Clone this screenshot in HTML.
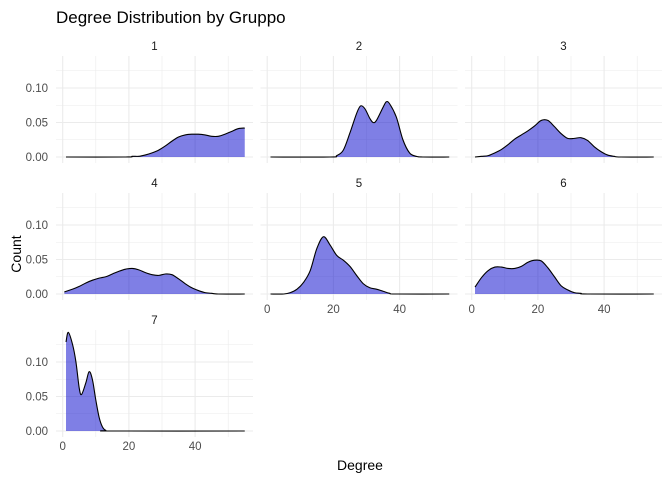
<!DOCTYPE html>
<html><head><meta charset="utf-8"><style>
body{margin:0;background:#fff}
svg{display:block;font-family:"Liberation Sans",sans-serif}
</style></head><body>
<svg id="c" width="672" height="480"></svg>
<script>
const groupNames=["1","2","3","4","5","6","7"];
const deg1=[1,19,21,23,25,27,29,31,33,35,37,39,41,43,45,47,49,51,53,55];
const den1=[0,0,0.001,0.001,0.003,0.006,0.010,0.016,0.023,0.029,0.032,0.033,0.033,0.032,0.030,0.030,0.033,0.037,0.041,0.042];
const deg2=[1,19,21,23,25,27,28.2,29.5,31,32,33,35,36,37,39,41,43,45,47,55];
const den2=[0,0,0.002,0.010,0.035,0.063,0.074,0.070,0.056,0.050,0.053,0.072,0.080,0.077,0.058,0.025,0.006,0.001,0,0];
const deg3=[1,3,5,7,9,11,13,15,17,19,21,23,25,27,29,31,33,35,37,39,41,43,45,55];
const den3=[0,0.001,0.002,0.006,0.011,0.018,0.026,0.032,0.038,0.045,0.053,0.053,0.044,0.034,0.027,0.027,0.028,0.024,0.015,0.008,0.003,0.001,0,0];
const deg4=[0.5,3,5,7,9,11,13,15,17,19,21,23,25,27,29,31,33,35,37,39,41,43,45,47,55];
const den4=[0.003,0.007,0.011,0.016,0.020,0.023,0.025,0.029,0.033,0.036,0.037,0.035,0.031,0.028,0.027,0.029,0.028,0.022,0.015,0.009,0.005,0.002,0.001,0,0];
const deg5=[1,5,7,9,11,13,15,17,19,21,23,25,27,29,31,33,35,37,39,55];
const den5=[0,0,0.002,0.007,0.017,0.034,0.066,0.083,0.071,0.056,0.049,0.040,0.027,0.015,0.009,0.007,0.004,0.001,0,0];
const deg6=[1,3,5,7,9,11,13,15,17,19,21,23,25,27,29,31,33,35,55];
const den6=[0.010,0.024,0.034,0.039,0.039,0.037,0.037,0.040,0.046,0.049,0.048,0.038,0.025,0.012,0.006,0.002,0.001,0,0];
const deg7=[1,1.7,3,4,5,5.7,7,8,9,10,11,12,13,15,55];
const den7=[0.129,0.143,0.125,0.10,0.062,0.053,0.070,0.086,0.074,0.045,0.020,0.006,0.001,0,0];
const xTicks=[0,20,40];
const yTicks=[0,0.05,0.10];
const yTickLabels=["0.00","0.05","0.10"];

const degs=[deg1,deg2,deg3,deg4,deg5,deg6,deg7];
const dens=[den1,den2,den3,den4,den5,den6,den7];
const NS="http://www.w3.org/2000/svg";
const svg=document.getElementById('c');
function mk(tag,attrs,parent){const e=document.createElementNS(NS,tag);for(const k in attrs)e.setAttribute(k,attrs[k]);(parent||svg).appendChild(e);return e;}
const PW=197,PX0=56,COLOFF=204.5,ROWOFF=137,PTOP=56,PBOT=163,X0=62.7,XS=3.31,Y0=157,YS=690;
function sx(col,v){return X0+col*COLOFF+v*XS;}
function sy(row,v){return Y0+row*ROWOFF-v*YS;}
function curve(pts){let d="M"+pts[0][0]+","+pts[0][1];
 for(let i=0;i<pts.length-1;i++){const p0=pts[Math.max(i-1,0)],p1=pts[i],p2=pts[i+1],p3=pts[Math.min(i+2,pts.length-1)];
  const c1x=p1[0]+(p2[0]-p0[0])/6,c1y=p1[1]+(p2[1]-p0[1])/6,c2x=p2[0]-(p3[0]-p1[0])/6,c2y=p2[1]-(p3[1]-p1[1])/6;
  d+=` C${c1x},${c1y} ${c2x},${c2y} ${p2[0]},${p2[1]}`;}
 return d;}
const t=mk('text',{x:56,y:23,'font-size':17,fill:'#000'});t.textContent="Degree Distribution by Gruppo";


for(let g=0;g<7;g++){
 const col=g%3,row=Math.floor(g/3);
 const grp=mk('g',{});
 
 
 const left=PX0+col*COLOFF,top=PTOP+row*ROWOFF,bot=PBOT+row*ROWOFF;
 for(let v=0;v<=50;v+=10){const x=sx(col,v);const l=mk('line',{x1:x,x2:x,y1:top,y2:bot,stroke:'#ebebeb','stroke-width':v%20==0?1.1:0.6},grp);
  }
 for(let v=0;v<=0.13;v+=0.025){const y=sy(row,v);const l=mk('line',{x1:left,x2:left+PW,y1:y,y2:y,stroke:'#ebebeb','stroke-width':Math.round(v*1000)%50==0?1.1:0.6},grp);
  }
 const pts=degs[g].map((d,i)=>[sx(col,d),sy(row,dens[g][i])]);
 const line=curve(pts);
 const area=mk('path',{d:line+` L${pts[pts.length-1][0]},${sy(row,0)} L${pts[0][0]},${sy(row,0)} Z`,fill:'#0000cc','fill-opacity':0.5},grp);
 
 
 const ln=mk('path',{d:line,fill:'none',stroke:'#000','stroke-width':1.1},grp);
 
 
 const st=mk('text',{x:left+PW/2,y:top-6,'text-anchor':'middle','font-size':11.5,fill:'#1a1a1a'},grp);st.textContent=groupNames[g];
 
 
 if(col==0){yTicks.forEach((v,i)=>{const tt=mk('text',{x:48,y:sy(row,v)+4,'text-anchor':'end','font-size':11.5,fill:'#4d4d4d'},grp);tt.textContent=yTickLabels[i];
  });}
 if(g>=4){xTicks.forEach(v=>{const tt=mk('text',{x:sx(col,v),y:bot+13,'text-anchor':'middle','font-size':11.5,fill:'#4d4d4d'},grp);tt.textContent=String(v);
  });}
}
const xl=mk('text',{x:360,y:470,'text-anchor':'middle','font-size':14,fill:'#000'});xl.textContent="Degree";


const yl=mk('text',{x:21,y:254,'text-anchor':'middle','font-size':14,fill:'#000',transform:'rotate(-90 21 254)'});yl.textContent="Count";


</script>
</body></html>
